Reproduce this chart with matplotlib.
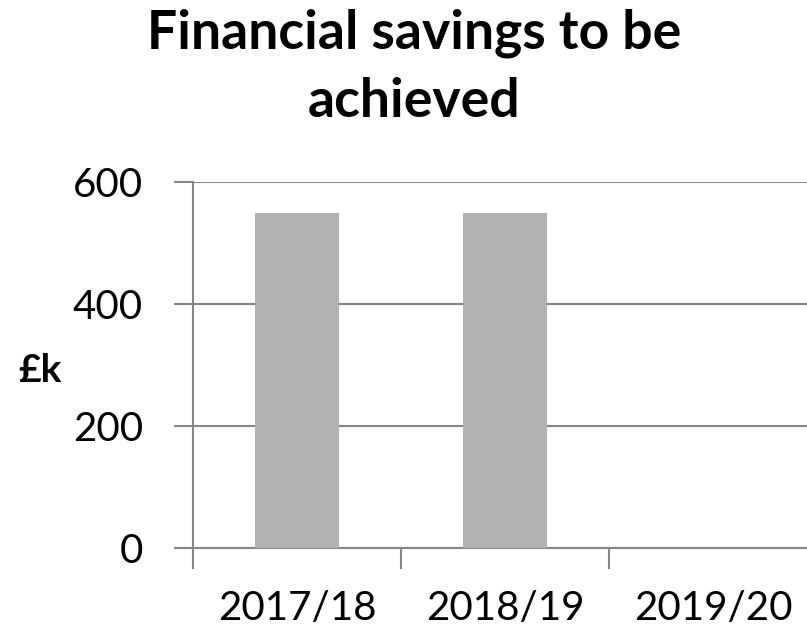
import numpy as np
import matplotlib.pyplot as plt

# values (£k)
years = ["2017/18", "2018/19", "2019/20"]
savings = [550, 550, 0]
yticks = [0, 200, 400, 600]

axis_grey = "#868686"
bar_grey = "#b2b2b2"
W, H = 807, 633

plt.rcParams['font.family'] = ['Lato', 'DejaVu Sans']

fig = plt.figure(figsize=(W / 100, H / 100), dpi=100)
ax = fig.add_axes([193 / W, 1 - 548 / H, 624 / W, 366 / H])

x = np.arange(len(years))
ax.bar(x, savings, width=0.4, color=bar_grey, zorder=3)

ax.set_xlim(-0.5, 2.5)
ax.set_ylim(0, 600)
ax.set_yticks(yticks)
ax.set_yticklabels([str(v) for v in yticks], fontsize=29)
ax.yaxis.grid(True, color=axis_grey, linewidth=1.5, zorder=0)

# category boundaries carry the x ticks, labels sit in between
ax.set_xticks([-0.5, 0.5, 1.5], minor=False)
ax.set_xticklabels([])
ax.set_xticks(x, minor=True)
ax.set_xticklabels(years, minor=True, fontsize=29)
ax.tick_params(axis='x', which='major', length=15, width=1.5, color=axis_grey)
ax.tick_params(axis='x', which='minor', length=0, pad=30)
ax.tick_params(axis='y', length=14, width=1.5, color=axis_grey, pad=22)

for s in ['top', 'right']:
    ax.spines[s].set_visible(False)
for s in ['left', 'bottom']:
    ax.spines[s].set_color(axis_grey)
    ax.spines[s].set_linewidth(1.5)

fig.text(40 / W, 1 - 370 / H, "£k", ha='center', va='center',
         fontsize=28, fontweight='bold')

# title, two lines placed on their baselines
fig.text(414 / W, 1 - 48 / H, "Financial savings to be", ha='center', va='baseline',
         fontsize=38.5, fontweight='bold')
fig.text(414 / W, 1 - 117 / H, "achieved", ha='center', va='baseline',
         fontsize=38.5, fontweight='bold')

fig.savefig("out.png", dpi=100)
